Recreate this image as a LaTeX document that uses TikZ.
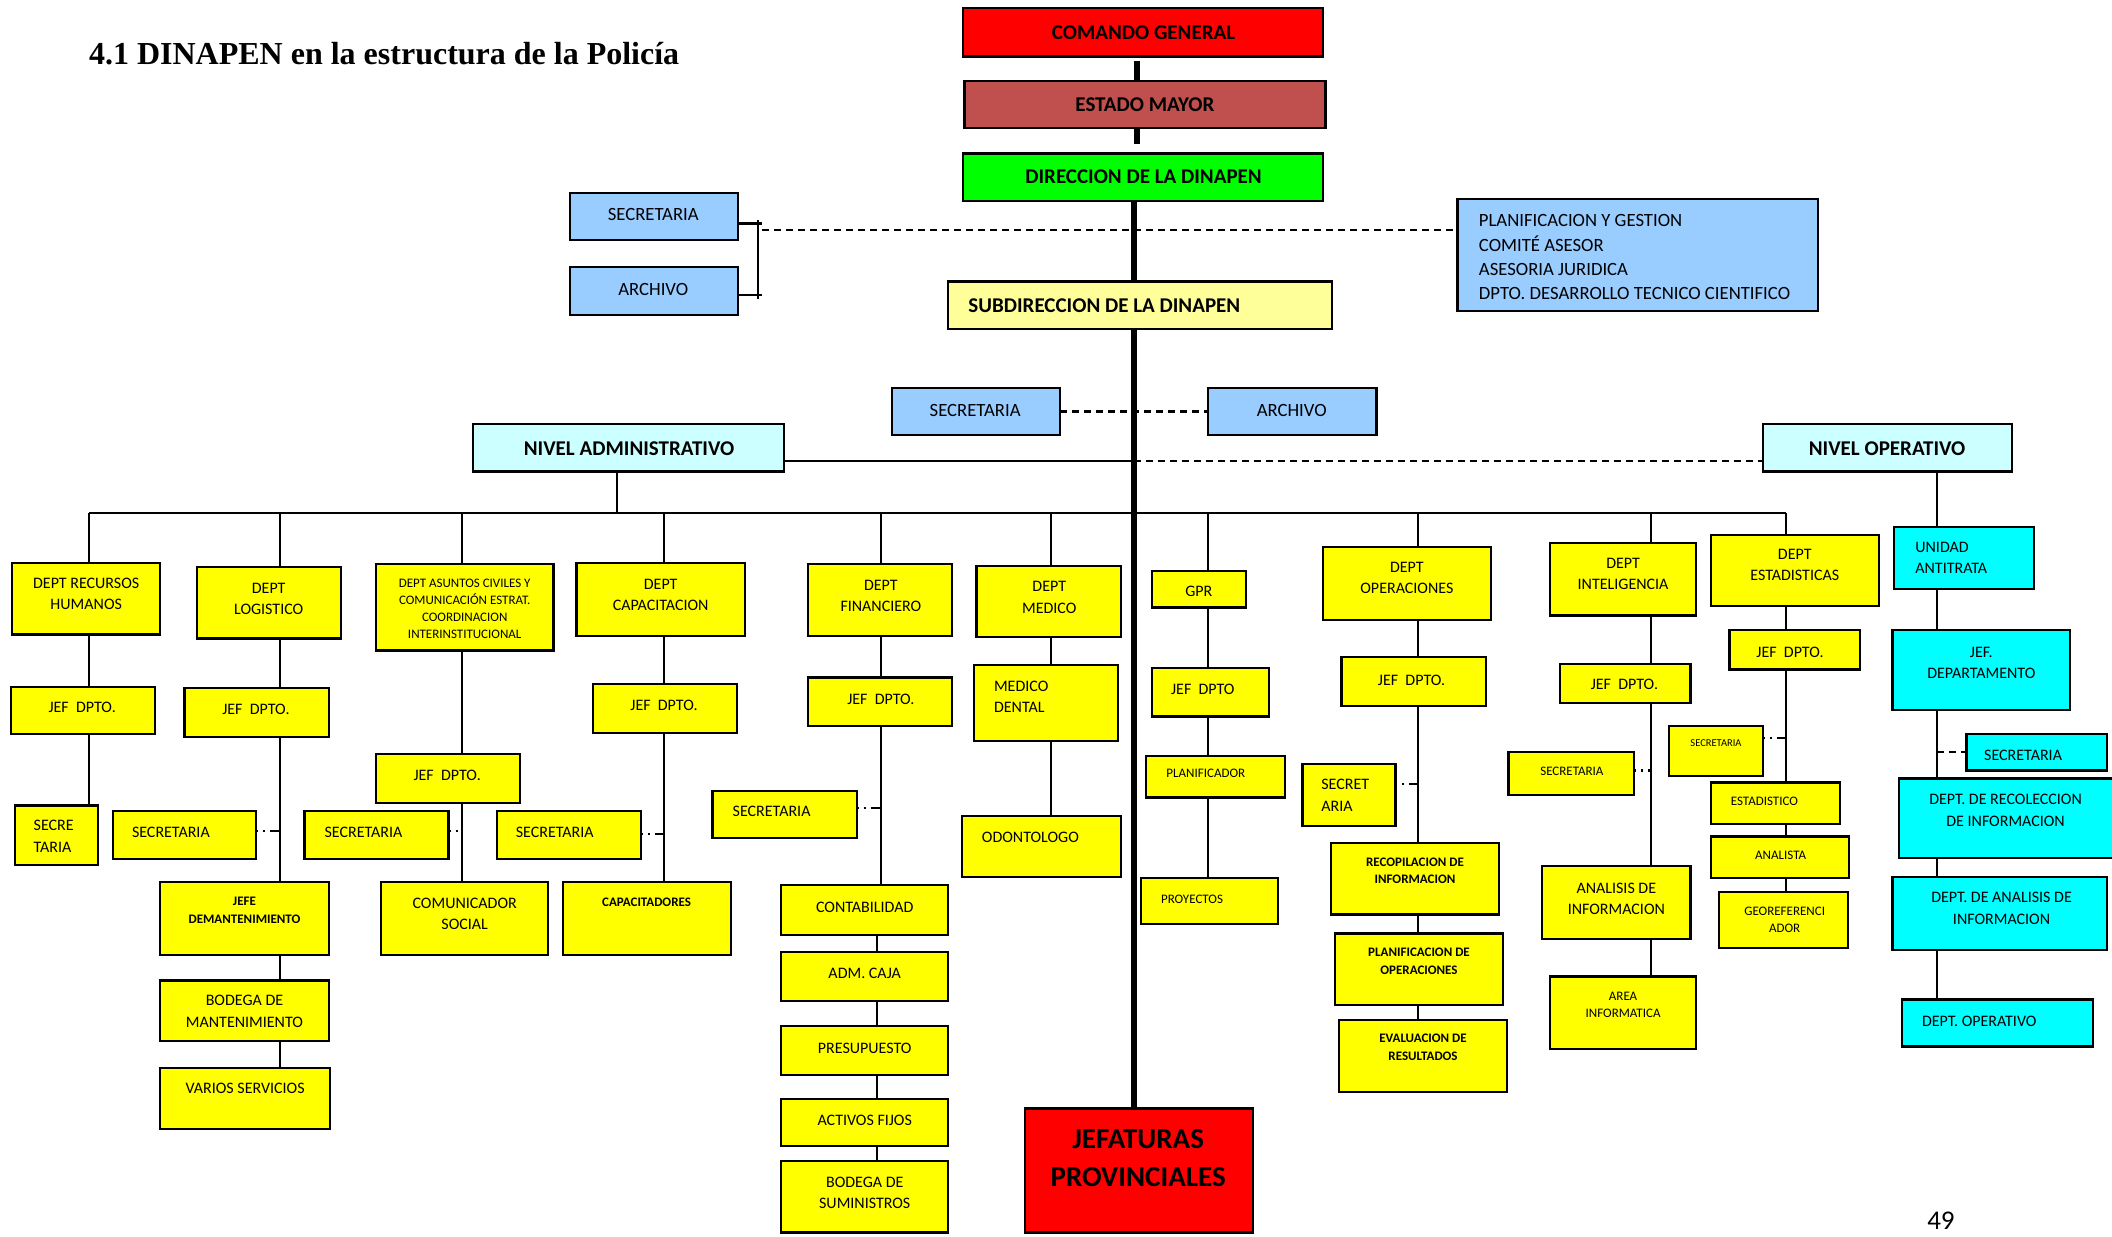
\documentclass[tikz,border=0pt]{standalone}
\usepackage{fontspec}
\setmainfont{Carlito}
\newfontfamily\titlefont{Liberation Serif}
\usetikzlibrary{fit,backgrounds}
\definecolor{cRed}{HTML}{FF0000}
\definecolor{cEM}{HTML}{C0504D}
\definecolor{cGreen}{HTML}{00FF00}
\definecolor{cBlue}{HTML}{99CCFF}
\definecolor{cLY}{HTML}{FFFF99}
\definecolor{cLC}{HTML}{CCFFFF}
\definecolor{cY}{HTML}{FFFF00}
\definecolor{cC}{HTML}{00FFFF}
\tikzset{
  box/.style={draw=black, line width=2.2pt, inner sep=0pt, outer sep=0pt},
  redbox/.style={box, fill=cRed},
  embox/.style={box, fill=cEM},
  grbox/.style={box, fill=cGreen},
  blbox/.style={box, fill=cBlue},
  lybox/.style={box, fill=cLY},
  lcbox/.style={box, fill=cLC},
  ybox/.style={box, fill=cY},
  cbox/.style={box, fill=cC},
  fH/.style={font=\bfseries\fontsize{21}{25}\selectfont},
  fB/.style={font=\fontsize{18.7}{24.2}\selectfont},
  fN/.style={font=\fontsize{16}{21.5}\selectfont},
  fS/.style={font=\fontsize{13}{17}\selectfont},
  fSB/.style={font=\bfseries\fontsize{13}{17.5}\selectfont},
  fT/.style={font=\fontsize{10.5}{13}\selectfont},
  lbl/.style={inner sep=0pt, outer sep=0pt, align=center, fN},
  con/.style={line width=2.2pt},
  mainline/.style={line width=6.5pt},
  topline/.style={line width=5.5pt},
  dsh/.style={line width=2.2pt, dash pattern=on 7pt off 5pt},
  dotc/.style={line width=2.2pt, dash pattern=on 2pt off 5pt on 2pt off 5pt on 9pt off 40pt},
}
\newcommand\bx[6]{\coordinate (#1-a) at (#3,#4);\coordinate (#1-b) at (#5,#6);\node[#2, fit=(#1-a)(#1-b)] (#1) {};}
\newcommand\tx[4]{\node[lbl,#2] (#1) at (#3) {#4};}
\newcommand\sdot[3]{\coordinate (#1-dy) at (0,#3);\draw[dotc] (#1.east |- #1-dy) -- (#2 |- #1-dy);}
\begin{document}
\begin{tikzpicture}[x=1.347pt, y=-1.347pt]
\useasboundingbox (0,0) rectangle (1568,918);
% title
\node[anchor=base west, inner sep=0pt, font=\titlefont\bfseries\fontsize{32}{38}\selectfont] (title) at (66,48) {4.1 DINAPEN en la estructura de la Policía};
\node[inner sep=0pt, font=\fontsize{27}{30}\selectfont] (pg) at (1441,906) {49};
% top boxes
\bx{cg}{redbox}{715}{6}{982}{42}
\bx{em}{embox}{716}{60}{984}{95}
\bx{dir}{grbox}{715}{114}{982}{149}
\bx{sec1}{blbox}{423}{143}{548}{178}
\bx{arc1}{blbox}{423}{198}{548}{234}
\bx{plan}{blbox}{1082}{148}{1350}{231}
\bx{sub}{lybox}{704}{209}{989}{244}
\bx{sec2}{blbox}{662}{288}{787}{323}
\bx{arc2}{blbox}{897}{288}{1022}{323}
\bx{nadm}{lcbox}{351}{315}{582}{350}
\bx{nop}{lcbox}{1309}{315}{1494}{350}
\bx{jp}{redbox}{761}{823}{930}{915}
\tx{cg-t}{fH}{849,24}{COMANDO GENERAL}
\tx{em-t}{fH}{850,78}{ESTADO MAYOR}
\tx{dir-t}{fH}{849,131}{DIRECCION DE LA DINAPEN}
\tx{sub-t}{fH,anchor=west}{719,227}{SUBDIRECCION DE LA DINAPEN}
\tx{sec1-t}{fB}{485,159}{SECRETARIA}
\tx{arc1-t}{fB}{485,215}{ARCHIVO}
\tx{plan-t}{fB,anchor=west,align=left}{1098,191}{PLANIFICACION Y GESTION\\COMITÉ ASESOR\\ASESORIA JURIDICA\\DPTO. DESARROLLO TECNICO CIENTIFICO}
\tx{sec2-t}{fB}{724,305}{SECRETARIA}
\tx{arc2-t}{fB}{959,305}{ARCHIVO}
\tx{nadm-t}{fH}{467,333}{NIVEL ADMINISTRATIVO}
\tx{nop-t}{fH}{1401,333}{NIVEL OPERATIVO}
\tx{jp-t}{font=\bfseries\fontsize{29}{37.7}\selectfont}{845,860}{JEFATURAS\\PROVINCIALES}
% RRHH
\bx{rh}{ybox}{9}{418}{119}{471}
\bx{rhj}{ybox}{8}{510}{115}{545}
\bx{rhs}{ybox}{11}{598}{73}{642}
\tx{rh-t}{}{64,441}{DEPT RECURSOS\\HUMANOS}
\tx{rhj-t}{}{61,525}{JEF\ \ DPTO.}
\tx{rhs-t}{anchor=west,align=left}{25,621}{SECRE\\TARIA}
% LOGISTICO
\bx{lg}{ybox}{146}{421}{253}{474}
\bx{lgj}{ybox}{137}{511}{244}{547}
\bx{lgs}{ybox}{84}{602}{190}{638}
\bx{lgm}{ybox}{119}{655}{244}{709}
\bx{lgb}{ybox}{119}{728}{244}{773}
\bx{lgv}{ybox}{119}{793}{245}{838}
\tx{lg-t}{}{199.5,444.5}{DEPT\\LOGISTICO}
\tx{lgj-t}{}{190,527}{JEF\ \ DPTO.}
\tx{lgs-t}{anchor=west}{98,618}{SECRETARIA}
\tx{lgm-t}{fSB}{181.5,676}{JEFE\\DEMANTENIMIENTO}
\tx{lgb-t}{}{181.5,751}{BODEGA DE\\MANTENIMIENTO}
\tx{lgv-t}{}{182,808}{VARIOS SERVICIOS}
% ASUNTOS CIVILES
\bx{ac}{ybox}{279}{419}{411}{483}
\bx{acj}{ybox}{279}{560}{386}{596}
\bx{acs}{ybox}{226}{602}{333}{638}
\bx{acc}{ybox}{283}{655}{407}{709}
\tx{ac-t}{fS}{345,452}{DEPT ASUNTOS CIVILES Y\\COMUNICACIÓN ESTRAT.\\COORDINACION\\INTERINSTITUCIONAL}
\tx{acj-t}{}{332,576}{JEF\ \ DPTO.}
\tx{acs-t}{anchor=west}{241,618}{SECRETARIA}
\tx{acc-t}{}{345,678.5}{COMUNICADOR\\SOCIAL}
% CAPACITACION
\bx{cp}{ybox}{428}{418}{553}{472}
\bx{cpj}{ybox}{440}{508}{547}{544}
\bx{cps}{ybox}{369}{602}{476}{638}
\bx{cpc}{ybox}{418}{655}{543}{709}
\tx{cp-t}{}{490.5,441.5}{DEPT\\CAPACITACION}
\tx{cpj-t}{}{493,524}{JEF\ \ DPTO.}
\tx{cps-t}{anchor=west}{383,618}{SECRETARIA}
\tx{cpc-t}{fSB}{480,670}{CAPACITADORES}
% FINANCIERO
\bx{fi}{ybox}{600}{419}{707}{472}
\bx{fij}{ybox}{600}{503}{707}{539}
\bx{fis}{ybox}{529}{587}{636}{622}
\bx{fi1}{ybox}{580}{657}{704}{694}
\bx{fi2}{ybox}{580}{707}{704}{743}
\bx{fi3}{ybox}{580}{762}{704}{798}
\bx{fi4}{ybox}{580}{816}{704}{851}
\bx{fi5}{ybox}{580}{862}{704}{915}
\tx{fi-t}{}{654,442.5}{DEPT\\FINANCIERO}
\tx{fij-t}{}{654,519}{JEF\ \ DPTO.}
\tx{fis-t}{anchor=west}{544,602}{SECRETARIA}
\tx{fi1-t}{}{642,674}{CONTABILIDAD}
\tx{fi2-t}{}{642,723}{ADM. CAJA}
\tx{fi3-t}{}{642,778}{PRESUPUESTO}
\tx{fi4-t}{}{642,832}{ACTIVOS FIJOS}
\tx{fi5-t}{}{642,885.5}{BODEGA DE\\SUMINISTROS}
% MEDICO
\bx{md}{ybox}{725}{420}{832}{473}
\bx{mdd}{ybox}{723}{494}{830}{550}
\bx{mdo}{ybox}{714}{606}{832}{651}
\tx{md-t}{}{779,443.5}{DEPT\\MEDICO}
\tx{mdd-t}{anchor=west,align=left}{738,517.5}{MEDICO\\DENTAL}
\tx{mdo-t}{anchor=west}{729,622}{ODONTOLOGO}
% GPR
\bx{gp}{ybox}{855}{424}{925}{451}
\bx{gpj}{ybox}{855}{496}{942}{532}
\bx{gpp}{ybox}{851}{561}{954}{592}
\bx{gpy}{ybox}{847}{652}{949}{686}
\tx{gp-t}{}{890,439}{GPR}
\tx{gpj-t}{}{893,512}{JEF\ \ DPTO}
\tx{gpp-t}{fS,anchor=west}{866,574}{PLANIFICADOR}
\tx{gpy-t}{fS,anchor=west}{862,668}{PROYECTOS}
% OPERACIONES
\bx{op}{ybox}{982}{406}{1107}{460}
\bx{opj}{ybox}{996}{488}{1103}{524}
\bx{ops}{ybox}{967}{567}{1036}{613}
\bx{op1}{ybox}{988}{626}{1113}{679}
\bx{op2}{ybox}{991}{693}{1116}{746}
\bx{op3}{ybox}{994}{757}{1119}{811}
\tx{op-t}{}{1044.5,429}{DEPT\\OPERACIONES}
\tx{opj-t}{}{1048,505}{JEF\ \ DPTO.}
\tx{ops-t}{anchor=west,align=left}{981,590.5}{SECRET\\ARIA}
\tx{op1-t}{fSB}{1050.5,646.5}{RECOPILACION DE\\INFORMACION}
\tx{op2-t}{fSB}{1053.5,713.5}{PLANIFICACION DE\\OPERACIONES}
\tx{op3-t}{fSB}{1056.5,777.5}{EVALUACION DE\\RESULTADOS}
% INTELIGENCIA
\bx{in}{ybox}{1151}{403}{1259}{457}
\bx{inj}{ybox}{1158}{493}{1255}{522}
\bx{ins}{ybox}{1120}{558}{1213}{590}
\bx{ina}{ybox}{1145}{643}{1255}{697}
\bx{inf}{ybox}{1151}{725}{1259}{779}
\tx{in-t}{}{1205,426}{DEPT\\INTELIGENCIA}
\tx{inj-t}{}{1206,508}{JEF\ \ DPTO.}
\tx{ins-t}{fS}{1167,573}{SECRETARIA}
\tx{ina-t}{}{1200,667.5}{ANALISIS DE\\INFORMACION}
\tx{inf-t}{fS}{1205,746}{AREA\\INFORMATICA}
% ESTADISTICAS
\bx{es}{ybox}{1270}{397}{1395}{450}
\bx{esj}{ybox}{1284}{468}{1381}{497}
\bx{ess}{ybox}{1239}{539}{1309}{576}
\bx{es1}{ybox}{1270}{581}{1366}{612}
\bx{es2}{ybox}{1270}{621}{1373}{652}
\bx{es3}{ybox}{1276}{662}{1372}{704}
\tx{es-t}{}{1332.5,419.5}{DEPT\\ESTADISTICAS}
\tx{esj-t}{}{1329,484}{JEF\ \ DPTO.}
\tx{ess-t}{fT}{1274,552}{SECRETARIA}
\tx{es1-t}{fS,anchor=west}{1285,595}{ESTADISTICO}
\tx{es2-t}{fS}{1322,635}{ANALISTA}
\tx{es3-t}{fS}{1325,683}{GEOREFERENCI\\ADOR}
% NIVEL OPERATIVO (cyan)
\bx{ua}{cbox}{1406}{391}{1510}{437}
\bx{uj}{cbox}{1405}{468}{1537}{527}
\bx{us}{cbox}{1460}{545}{1564}{572}
\bx{ur}{cbox}{1410}{578}{1578}{637}
\bx{ub}{cbox}{1405}{651}{1564}{705}
\bx{uo}{cbox}{1412}{742}{1554}{777}
\tx{ua-t}{anchor=west,align=left}{1422,414}{UNIDAD\\ANTITRATA}
\tx{uj-t}{}{1471,492}{JEF.\\DEPARTAMENTO}
\tx{us-t}{}{1502,561}{SECRETARIA}
\tx{ur-t}{}{1489,601.5}{DEPT. DE RECOLECCION\\DE INFORMACION}
\tx{ub-t}{}{1486,674.5}{DEPT. DE ANALISIS DE\\INFORMACION}
\tx{uo-t}{anchor=west}{1427,758}{DEPT. OPERATIVO}
% ---------------- connectors ----------------
\begin{pgfonlayer}{background}
\fill[white] (0,0) rectangle (1568,918);
\coordinate (mx) at (842,0);
\coordinate (tx) at (844,0);
\draw[topline, shorten <=4pt] (tx |- cg.south) -- (tx |- em.north);
\draw[topline, shorten >=10pt] (tx |- em.south) -- (tx |- dir.north);
% bracket and dashed link to advisory box
\coordinate (b1) at (566,166);
\coordinate (b2) at (566,219);
\coordinate (bv1) at (563,163);
\coordinate (bv2) at (563,222);
\draw[con] (sec1.east |- b1) -- (b1);
\draw[con] (arc1.east |- b2) -- (b2);
\draw[con] (bv1) -- (bv2);
\coordinate (d1) at (566,171);
\draw[dsh] (d1) -- (plan.west |- d1);
\draw[dsh] (sec2.east) -- (arc2.west);
% levels
\coordinate (ya) at (0,342);
\draw[con] (nadm.east |- ya) -- (mx |- ya);
\draw[dsh] (mx |- ya) -- (nop.west |- ya);
\coordinate (ax) at (458,381);
\draw[con] (ax |- nadm.south) -- (ax);
\coordinate (busL) at (66,381);
\coordinate (busR) at (1326,381);
\draw[con] (busL) -- (busR);
\draw[mainline] (mx |- dir.south) -- (mx |- jp.north);
% column coordinates
\coordinate (xRH) at (66,381);
\coordinate (xLG) at (208,381);
\coordinate (xAC) at (343,381);
\coordinate (xCP) at (493,381);
\coordinate (xFI) at (654,381);
\coordinate (xFJ) at (651,381);
\coordinate (xMD) at (780,381);
\coordinate (xGP) at (897,381);
\coordinate (xOP) at (1053,381);
\coordinate (xIN) at (1226,381);
\coordinate (xES) at (1326,381);
\coordinate (xOV) at (1438,381);
\draw[con] (xRH) -- (xRH |- rh.north);
\draw[con] (xLG) -- (xLG |- lg.north);
\draw[con] (xAC) -- (xAC |- ac.north);
\draw[con] (xCP) -- (xCP |- cp.north);
\draw[con] (xFI) -- (xFI |- fi.north);
\draw[con] (xMD) -- (xMD |- md.north);
\draw[con] (xGP) -- (xGP |- gp.north);
\draw[con] (xOP) -- (xOP |- op.north);
\draw[con] (xIN) -- (xIN |- in.north);
\draw[con] (xES) -- (xES |- es.north);
\draw[con] (xOV |- nop.south) -- (xOV |- ua.north);
\foreach \a/\b in {rh/rhj,rhj/rhs}{\draw[con] (xRH |- \a.south) -- (xRH |- \b.north);}
\foreach \a/\b in {lg/lgj,lgj/lgm,lgm/lgb,lgb/lgv}{\draw[con] (xLG |- \a.south) -- (xLG |- \b.north);}
\foreach \a/\b in {ac/acj,acj/acc}{\draw[con] (xAC |- \a.south) -- (xAC |- \b.north);}
\foreach \a/\b in {cp/cpj,cpj/cpc}{\draw[con] (xCP |- \a.south) -- (xCP |- \b.north);}
\foreach \a/\b in {fi/fij,fij/fi1}{\draw[con] (xFI |- \a.south) -- (xFI |- \b.north);}
\foreach \a/\b in {fi1/fi2,fi2/fi3,fi3/fi4,fi4/fi5}{\draw[con] (xFJ |- \a.south) -- (xFJ |- \b.north);}
\foreach \a/\b in {md/mdd,mdd/mdo}{\draw[con] (xMD |- \a.south) -- (xMD |- \b.north);}
\foreach \a/\b in {gp/gpj,gpj/gpp,gpp/gpy}{\draw[con] (xGP |- \a.south) -- (xGP |- \b.north);}
\foreach \a/\b in {op/opj,opj/op1,op1/op2,op2/op3}{\draw[con] (xOP |- \a.south) -- (xOP |- \b.north);}
\foreach \a/\b in {in/inj,inj/ina,ina/inf}{\draw[con] (xIN |- \a.south) -- (xIN |- \b.north);}
\foreach \a/\b in {es/esj,esj/es1,es1/es2,es2/es3}{\draw[con] (xES |- \a.south) -- (xES |- \b.north);}
\foreach \a/\b in {ua/uj,uj/ur,ur/ub,ub/uo}{\draw[con] (xOV |- \a.south) -- (xOV |- \b.north);}
% secretaria links
\sdot{lgs}{xLG}{617}
\sdot{acs}{xAC}{617}
\sdot{cps}{xCP}{619}
\sdot{fis}{xFI}{600}
\sdot{ops}{xOP}{582}
\sdot{ins}{xIN}{572}
\sdot{ess}{xES}{548}
\draw[dsh] (xOV |- us.west) -- (us.west);
\end{pgfonlayer}
\end{tikzpicture}
\end{document}
